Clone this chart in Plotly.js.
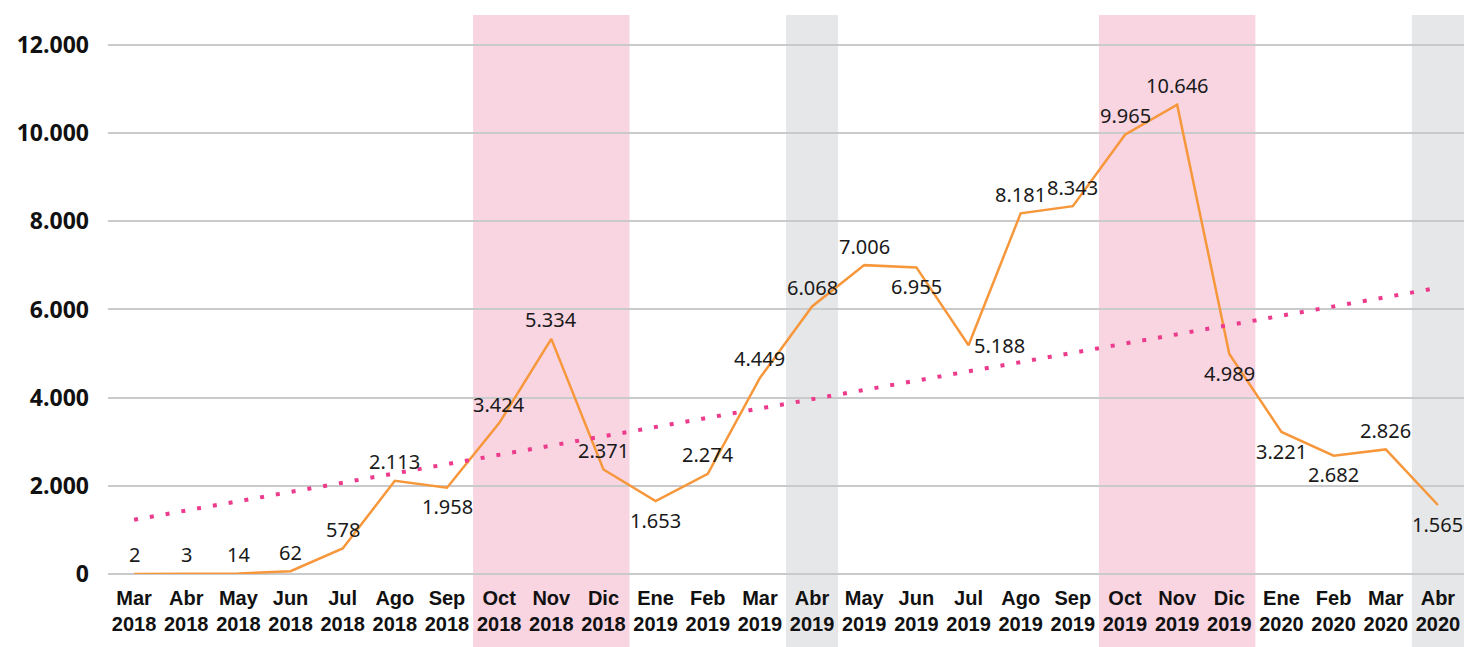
<!DOCTYPE html>
<html><head><meta charset="utf-8">
<script src="https://cdn.plot.ly/plotly-3.0.1.min.js"></script>
<style>html,body{margin:0;padding:0;background:#fff}#c{width:1464px;height:647px}</style>
</head><body><div id="c"></div>
<script>
const months = ["Mar","Abr","May","Jun","Jul","Ago","Sep","Oct","Nov","Dic","Ene","Feb","Mar","Abr","May","Jun","Jul","Ago","Sep","Oct","Nov","Dic","Ene","Feb","Mar","Abr"];
const years = ["2018","2018","2018","2018","2018","2018","2018","2018","2018","2018","2019","2019","2019","2019","2019","2019","2019","2019","2019","2019","2019","2019","2020","2020","2020","2020"];
const values = [2,3,14,62,578,2113,1958,3424,5334,2371,1653,2274,4449,6068,7006,6955,5188,8181,8343,9965,10646,4989,3221,2682,2826,1565];
const labelPos = ["top","top","top","top","top","top","bottom","top","top","top","bottom","top","top","top","top","bottom","right","top","top","top","top","bottom","bottom","bottom","top","bottom"];
const trendEnds = [1230, 6490];
const pinkBands = [[7,9],[19,21]];
const grayBands = [[13,13],[25,25]];

const idx = values.map((v,i)=>i);
const tickText = months.map((m,i)=>m+"<br>"+years[i]);
const fmt = v => v.toString().replace(/\B(?=(\d{3})+(?!\d))/g, ".");

const shapes = [];
pinkBands.forEach(b=>shapes.push({type:"rect",xref:"x",yref:"paper",x0:b[0]-0.5,x1:b[1]+0.5,y0:-0.2,y1:1,fillcolor:"#f9d5e2",line:{width:0},layer:"below"}));
grayBands.forEach(b=>shapes.push({type:"rect",xref:"x",yref:"paper",x0:b[0]-0.5,x1:b[1]+0.5,y0:-0.2,y1:1,fillcolor:"#e6e7e8",line:{width:0},layer:"below"}));

const annotations = values.map((v,i)=>{
  const p = labelPos[i];
  return {x:i, y:v, xref:"x", yref:"y", text:fmt(v), showarrow:false,
    xshift: p==="right" ? 31 : 0,
    yshift: p==="top" ? 19 : (p==="bottom" ? -19 : 0),
    font:{family:"Noto Sans, Open Sans, sans-serif", size:20, color:"#1a1a1a"}};
});

const traces = [
  {x: idx, y: values, type:"scatter", mode:"lines", line:{color:"#f7973c", width:2.5}, hoverinfo:"none"},
  {x: [0, values.length-1], y: trendEnds, type:"scatter", mode:"lines",
   line:{color:"#ec3b8c", width:4, dash:"4px,12px"}, hoverinfo:"none"}
];

const layout = {
  width:1464, height:647, showlegend:false,
  paper_bgcolor:"#fff", plot_bgcolor:"rgba(0,0,0,0)",
  margin:{l:108, r:0, t:15, b:73},
  separators:",.",
  shapes: shapes,
  annotations: annotations,
  xaxis:{range:[-0.5, values.length-0.5], tickmode:"array", tickvals: idx, ticktext: tickText,
    showgrid:false, zeroline:false, showline:false, ticks:"", ticklabelstandoff:10,
    tickfont:{family:"Liberation Sans Narrow, Arial Narrow, sans-serif", size:20, color:"#111", weight:"bold"}},
  yaxis:{range:[0,12680], tickvals:[0,2000,4000,6000,8000,10000,12000], ticktext:["0","2.000","4.000","6.000","8.000","10.000","12.000"],
    showgrid:true, gridcolor:"#c9cacc", gridwidth:2, zeroline:true, zerolinecolor:"#c9cacc", zerolinewidth:2,
    showline:false, ticks:"", ticklabelstandoff:18,
    tickfont:{family:"Open Sans, Noto Sans, sans-serif", size:23, color:"#111", weight:"bold"}}
};
Plotly.newPlot("c", traces, layout, {displayModeBar:false, staticPlot:true});
</script></body></html>
